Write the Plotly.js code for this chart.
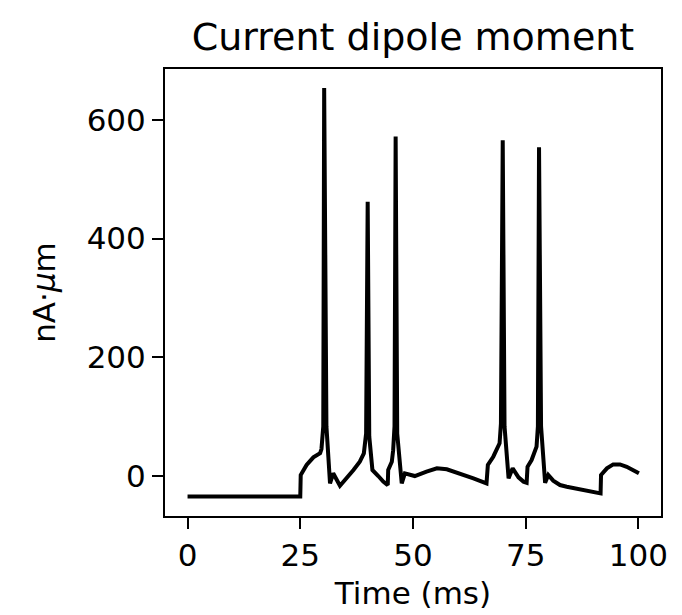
<!DOCTYPE html>
<html>
<head>
<meta charset="utf-8">
<script src="https://cdn.plot.ly/plotly-3.0.1.min.js"></script>
<style>html,body{margin:0;padding:0;background:#fff;}#chart{width:682px;height:615px;}</style>
</head>
<body>
<div id="chart"></div>
<script>
// Time (ms)
const timeMs = [0, 25, 25.1, 26.4, 27.9, 29.4, 29.7, 30.1, 30.3, 30.8, 31.6, 32.3, 33.8, 35.3, 36.8, 38.2, 39.1, 39.6, 39.95, 40.3, 41.0, 42.3, 43.4, 44.4, 44.5, 45.3, 45.6, 45.9, 46.15, 46.5, 47.5, 48.2, 50.4, 53.0, 55.3, 57.5, 60.4, 63.4, 66.3, 66.6, 67.8, 69.2, 69.5, 69.9, 70.3, 71.2, 72.1, 73.4, 74.5, 75.2, 75.4, 76.3, 77.4, 77.7, 77.95, 78.4, 79.3, 80.0, 81.1, 82.6, 84.1, 87.1, 90.0, 91.6, 91.7, 93.0, 94.4, 95.9, 97.4, 98.9, 100.1];
// Dipole moment (nA·µm)
const dipole = [-35, -35, 1, 18, 31, 38, 45, 83, 654, 83, -13, 4, -17, -4.5, 9.6, 23.6, 37.7, 71, 462, 66, 9.6, -0.6, -10, -15.8, 9.6, 23.6, 43, 83, 572, 71, -13, 4, -0.6, 6.8, 12.4, 10.7, 4, -4.5, -13, 18, 32, 54.6, 88, 566, 83, -4.5, 12.4, -2.8, -10, -11.8, 15, 26.4, 49, 83, 554, 83, -12, 1.1, -8.4, -15.8, -18.6, -22.5, -27, -29.8, 1.1, 12.4, 19, 19, 15, 9.6, 4];
const xTicks = [0, 25, 50, 75, 100];
const yTicks = [0, 200, 400, 600];

const font = 'DejaVu Sans, sans-serif';
const trace = {
  x: timeMs, y: dipole, type: 'scatter', mode: 'lines',
  line: {color: '#000000', width: 4}, hoverinfo: 'skip'
};
const axisCommon = {
  showline: true, mirror: true, linecolor: '#000', linewidth: 2,
  ticks: 'outside', ticklen: 11, tickwidth: 2, tickcolor: '#000',
  showgrid: false, zeroline: false,
  tickfont: {family: font, size: 31, color: '#000'}
};
const layout = {
  width: 682, height: 615,
  margin: {l: 165, r: 21, t: 69, b: 99},
  paper_bgcolor: '#fff', plot_bgcolor: '#fff',
  showlegend: false,
  title: {text: 'Current dipole moment', font: {family: font, size: 38, color: '#000'},
          xref: 'paper', x: 0.5, xanchor: 'center', yref: 'container', y: 1 - 37/615, yanchor: 'middle'},
  xaxis: Object.assign({}, axisCommon, {
    range: [-5, 105], tickvals: xTicks, ticktext: xTicks.map(String),
    title: {text: 'Time (ms)', font: {family: font, size: 31, color: '#000'}, standoff: 10}
  }),
  yaxis: Object.assign({}, axisCommon, {
    range: [-68, 686], tickvals: yTicks, ticktext: yTicks.map(String),
    title: {text: 'nA·<i>μ</i>m', font: {family: font, size: 31, color: '#000'}, standoff: 22}
  })
};
Plotly.newPlot('chart', [trace], layout, {staticPlot: true, displayModeBar: false});
</script>
</body>
</html>
